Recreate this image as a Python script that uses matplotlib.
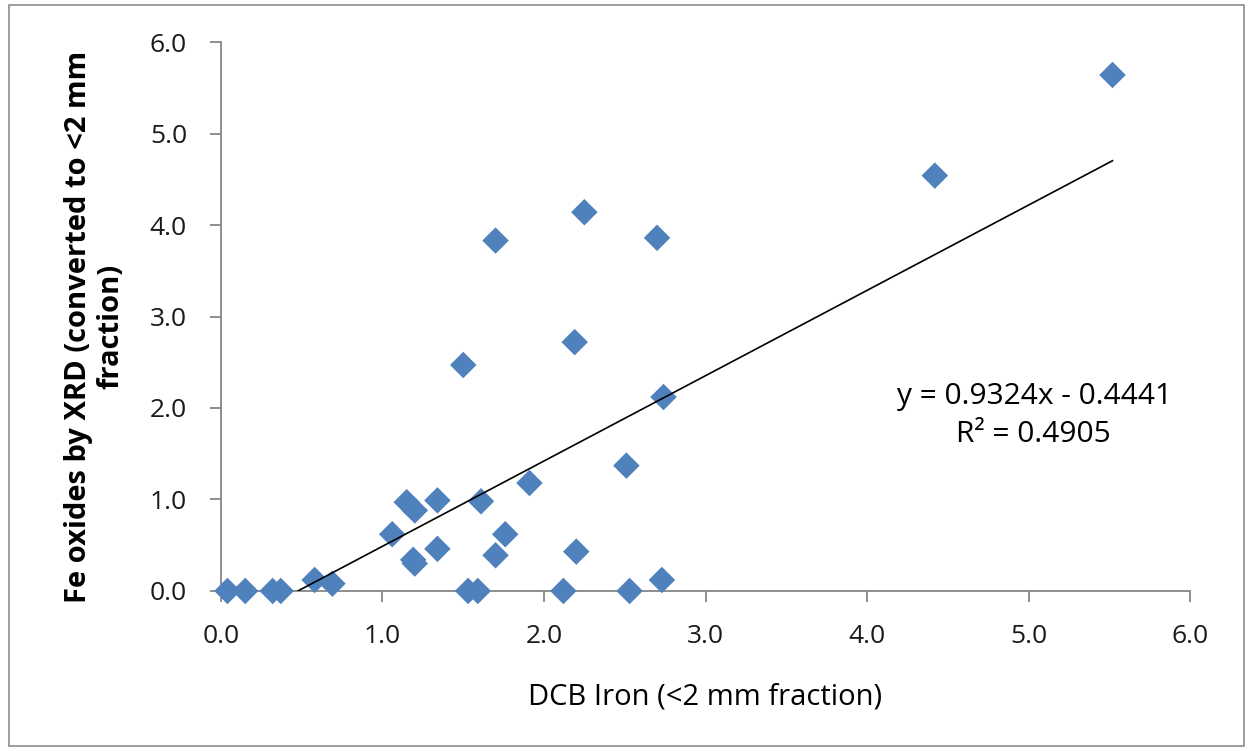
import matplotlib.pyplot as plt
from matplotlib.patches import Rectangle

# DCB iron vs Fe oxides by XRD
dcb_iron = [0.04, 0.15, 0.32, 0.37, 0.58, 0.69, 1.06, 1.15, 1.20, 1.19, 1.20,
            1.34, 1.34, 1.50, 1.53, 1.59, 1.61, 1.70, 1.76, 1.91, 2.12, 2.20,
            1.70, 2.25, 2.70, 2.19, 2.74, 2.51, 2.53, 2.73, 4.42, 5.52]
xrd_fe = [0.0, 0.0, 0.0, 0.0, 0.12, 0.08, 0.62, 0.97, 0.88, 0.34, 0.30,
          0.99, 0.46, 2.47, 0.0, 0.0, 0.98, 0.39, 0.62, 1.18, 0.0, 0.43,
          3.83, 4.14, 3.86, 2.72, 2.12, 1.37, 0.0, 0.12, 4.54, 5.64]

slope = 0.9324
intercept = -0.4441
r2 = 0.4905

ticks = [0, 1, 2, 3, 4, 5, 6]
tick_labels = ["0.0", "1.0", "2.0", "3.0", "4.0", "5.0", "6.0"]

plt.rcParams["font.family"] = ["Open Sans", "DejaVu Sans"]

fig = plt.figure(figsize=(12.52, 7.51), dpi=100)
fig.patches.append(Rectangle((0.007, 0.007), 0.987, 0.986, transform=fig.transFigure,
                             fill=False, edgecolor="#8c8c8c", linewidth=1.2))

ax = fig.add_axes([0.1765, 0.2131, 0.774, 0.7309])

ax.scatter(dcb_iron, xrd_fe, marker="D", s=13.5 ** 2, color="#4f81bd",
           edgecolors="none", zorder=3, clip_on=False)

# linear trendline over the data range, clipped at y = 0
x0 = max(min(dcb_iron), -intercept / slope)
x1 = max(dcb_iron)
ax.plot([x0, x1], [slope * x0 + intercept, slope * x1 + intercept],
        color="black", linewidth=1.2, zorder=4)

ax.set_xlim(0, 6)
ax.set_ylim(0, 6)
ax.set_xticks(ticks)
ax.set_xticklabels(tick_labels)
ax.set_yticks(ticks)
ax.set_yticklabels(tick_labels)

for side in ["top", "right"]:
    ax.spines[side].set_visible(False)
for side in ["left", "bottom"]:
    ax.spines[side].set_color("#868686")
    ax.spines[side].set_linewidth(1.3)
ax.tick_params(direction="out", length=8, width=1.3, color="#868686",
               labelsize=19, labelcolor="#1a1a1a")
ax.tick_params(axis="y", pad=16.5)
ax.tick_params(axis="x", pad=16)

ax.set_xlabel("DCB Iron (<2 mm fraction)", fontsize=21, labelpad=24)
ax.set_ylabel("Fe oxides by XRD (converted to <2 mm\nfraction)", fontsize=21,
              fontweight="bold", linespacing=1.15)
ax.yaxis.set_label_coords(-0.099, 0.482)

ax.text(5.04, 2.13, "y = 0.9324x - 0.4441", fontsize=21.5, ha="center", va="center")
ax.text(5.03, 1.71, "R\u00b2 = %.4f" % r2, fontsize=21.5, ha="center", va="center")

fig.savefig("out.png", dpi=100)
